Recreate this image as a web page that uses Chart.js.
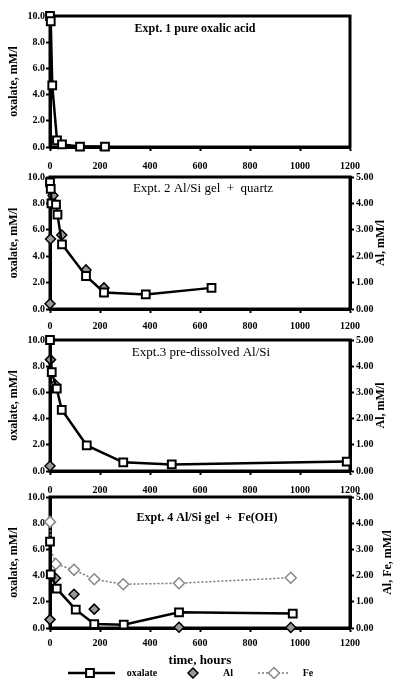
<!DOCTYPE html>
<html>
<head>
<meta charset="utf-8">
<script src="https://cdn.jsdelivr.net/npm/chart.js@4.4.0/dist/chart.umd.min.js"></script>
<style>
html, body { margin: 0; padding: 0; background: #fff; }
#wrap { position: relative; width: 397px; height: 679px; overflow: hidden; }
canvas { position: absolute; left: 0; }
</style>
</head>
<body>
<div id="wrap">
  <canvas id="p1" width="397" height="172" style="top:0px"></canvas>
  <canvas id="p2" width="397" height="172" style="top:162px"></canvas>
  <canvas id="p3" width="397" height="171" style="top:325px"></canvas>
  <canvas id="p4" width="397" height="193" style="top:486px"></canvas>
</div>
<script>
// tick labels
const hourTicks = [0, 200, 400, 600, 800, 1000, 1200];
const oxalateTicks = [0, 2, 4, 6, 8, 10];
const metalTicks = [0, 1, 2, 3, 4, 5];

// Expt 1 - pure oxalic acid
const e1Time = [0, 3, 9, 28, 48, 120, 220];
const e1Oxalate = [10.0, 9.6, 4.7, 0.5, 0.2, 0.03, 0.03];

// Expt 2 - Al/Si gel + quartz
const e2Time = [0, 3, 6, 24, 30, 48, 144, 216, 383, 646];
const e2Oxalate = [9.6, 9.1, 8.0, 7.9, 7.15, 4.9, 2.5, 1.25, 1.1, 1.6];
const e2AlTime = [0, 2, 12, 47, 144, 216];
const e2Al = [0.2, 2.65, 4.3, 2.8, 1.48, 0.8];

// Expt 3 - pre-dissolved Al/Si
const e3Time = [0, 7, 27, 47, 147, 293, 487, 1187];
const e3Oxalate = [10.0, 7.55, 6.28, 4.67, 1.95, 0.66, 0.5, 0.72];
const e3AlTime = [0, 2, 20];
const e3Al = [0.19, 4.25, 3.3];

// Expt 4 - Al/Si gel + Fe(OH)
const e4Time = [0, 3, 27, 103, 177, 295, 516, 971];
const e4Oxalate = [6.6, 4.1, 3.0, 1.4, 0.3, 0.25, 1.2, 1.1];
const e4AlTime = [0, 22, 96, 177, 516, 963];
const e4Al = [0.32, 1.9, 1.29, 0.72, 0.03, 0.02];
const e4FeTime = [0, 6, 23, 96, 177, 293, 516, 963];
const e4Fe = [4.05, 2.95, 2.44, 2.22, 1.86, 1.67, 1.71, 1.92];

const SERIF = '"Liberation Serif", "DejaVu Serif", serif';

function pts(xs, ys) { return xs.map((x, i) => ({ x, y: ys[i] })); }

const tickGrid = { drawOnChartArea: false, tickLength: 4, tickWidth: 2, tickColor: '#000' };
const axisBorder = { color: '#000', width: 3 };
const tickFont = { family: SERIF, size: 10, weight: 'bold' };

function xAxis(pad, h, withTitle) {
  return {
    type: 'linear', min: 0, max: 1200,
    afterBuildTicks: s => { s.ticks = hourTicks.map(v => ({ value: v })); },
    ticks: { padding: pad, color: '#000', font: tickFont, maxRotation: 0, callback: v => String(v) },
    grid: tickGrid,
    border: axisBorder,
    title: { display: withTitle, text: 'time, hours', color: '#000',
             font: { family: SERIF, size: 13, weight: 'bold' }, padding: 0 },
    afterFit: s => { s.height = h; }
  };
}

function yLeft() {
  return {
    position: 'left', min: 0, max: 10,
    afterBuildTicks: s => { s.ticks = oxalateTicks.map(v => ({ value: v })); },
    ticks: { padding: 1, color: '#000', font: tickFont, callback: v => v.toFixed(1) },
    grid: tickGrid,
    border: axisBorder,
    title: { display: true, text: 'oxalate, mM/l', color: '#000',
             font: { family: SERIF, size: 12, weight: 'bold' }, padding: { top: 7, bottom: 0 } },
    afterFit: s => { s.width = 50; }
  };
}

function yRight() {
  return {
    position: 'right', min: 0, max: 5,
    afterBuildTicks: s => { s.ticks = metalTicks.map(v => ({ value: v })); },
    ticks: { padding: 2, color: '#000', font: tickFont, callback: v => v.toFixed(2) },
    grid: tickGrid,
    border: axisBorder,
    afterFit: s => { s.width = 47; }
  };
}

const oxalateStyle = {
  label: 'oxalate', borderColor: '#000', borderWidth: 2.5,
  pointStyle: 'rect', pointRadius: 5.5, pointBorderWidth: 2,
  pointBackgroundColor: '#fff', pointBorderColor: '#000',
  yAxisID: 'y', clip: false
};
const alStyle = {
  label: 'Al', showLine: false,
  pointStyle: 'rectRot', pointRadius: 5, pointBorderWidth: 1.5,
  pointBackgroundColor: '#999', pointBorderColor: '#000',
  yAxisID: 'y2', clip: false
};
const feStyle = {
  label: 'Fe', borderColor: '#777', borderWidth: 1.5, borderDash: [2, 2],
  pointStyle: 'rectRot', pointBorderWidth: 1.5,
  pointRadius: c => (c.dataIndex === 1 ? 0 : 5.5),
  pointBackgroundColor: '#fff', pointBorderColor: '#888',
  yAxisID: 'y2', clip: false
};

// box round the plot, drawn under the marks
const frame = {
  id: 'frame',
  beforeDatasetsDraw(chart) {
    const { ctx, chartArea: a } = chart;
    ctx.save();
    ctx.strokeStyle = '#000';
    ctx.lineWidth = 3;
    ctx.strokeRect(a.left, a.top, a.right - a.left, a.bottom - a.top);
    ctx.restore();
  }
};

// experiment label inside the plot + right axis title (bottom-to-top)
const panelText = {
  id: 'panelText',
  afterDraw(chart, args, o) {
    const { ctx, chartArea: a } = chart;
    ctx.save();
    ctx.fillStyle = '#000';
    ctx.textAlign = 'center';
    ctx.textBaseline = 'middle';
    ctx.font = `${o.weight} ${o.size}px ${SERIF}`;
    ctx.fillText(o.text, o.x, a.top + o.dy);
    if (o.right) {
      ctx.font = `bold 12px ${SERIF}`;
      ctx.translate(o.rightX, (a.top + a.bottom) / 2);
      ctx.rotate(-Math.PI / 2);
      ctx.fillText(o.right, 0, 0);
    }
    ctx.restore();
  }
};

// legend under the last panel: line + marker + name
const lineLegend = {
  id: 'lineLegend',
  afterDraw(chart, args, o) {
    if (!o.show) return;
    const { ctx } = chart;
    const y = chart.height - 6;
    ctx.save();
    ctx.textBaseline = 'middle';
    ctx.textAlign = 'center';
    ctx.font = `bold 10px ${SERIF}`;
    // oxalate
    ctx.strokeStyle = '#000'; ctx.lineWidth = 2.5;
    ctx.beginPath(); ctx.moveTo(68, y); ctx.lineTo(115, y); ctx.stroke();
    ctx.fillStyle = '#fff'; ctx.lineWidth = 2;
    Chart.helpers.drawPoint(ctx, { pointStyle: 'rect', radius: 5.5, borderWidth: 2 }, 90, y);
    ctx.fillStyle = '#000';
    ctx.fillText('oxalate', 142, y);
    // Al
    ctx.fillStyle = '#999'; ctx.strokeStyle = '#000'; ctx.lineWidth = 1.5;
    Chart.helpers.drawPoint(ctx, { pointStyle: 'rectRot', radius: 5, borderWidth: 1.5 }, 193, y);
    ctx.fillStyle = '#000';
    ctx.fillText('Al', 228, y);
    // Fe
    ctx.strokeStyle = '#777'; ctx.lineWidth = 1.5; ctx.setLineDash([2, 2]);
    ctx.beginPath(); ctx.moveTo(258, y); ctx.lineTo(290, y); ctx.stroke();
    ctx.setLineDash([]);
    ctx.fillStyle = '#fff'; ctx.strokeStyle = '#888';
    Chart.helpers.drawPoint(ctx, { pointStyle: 'rectRot', radius: 5.5, borderWidth: 1.5 }, 274, y);
    ctx.fillStyle = '#000';
    ctx.fillText('Fe', 308, y);
    ctx.restore();
  }
};

function makePanel(id, cfg) {
  const scales = { x: xAxis(cfg.xPad, cfg.xH, cfg.xTitle), y: yLeft() };
  if (cfg.hasRight) scales.y2 = yRight();
  return new Chart(document.getElementById(id), {
    type: 'line',
    data: { datasets: cfg.datasets },
    options: {
      responsive: false,
      animation: false,
      events: [],
      layout: { padding: { top: cfg.top, right: cfg.hasRight ? 0 : 47, bottom: cfg.bottom || 0, left: 0 } },
      scales,
      plugins: {
        legend: { display: false },
        tooltip: { enabled: false },
        panelText: cfg.label,
        lineLegend: { show: !!cfg.legend }
      }
    },
    plugins: [frame, panelText, lineLegend]
  });
}

makePanel('p1', {
  top: 16, xPad: 9, xH: 25, hasRight: false,
  label: { text: 'Expt. 1 pure oxalic acid', x: 195, dy: 13, size: 12, weight: 'bold' },
  datasets: [{ ...oxalateStyle, data: pts(e1Time, e1Oxalate) }]
});

makePanel('p2', {
  top: 15, xPad: 7, xH: 25, hasRight: true,
  label: { text: 'Expt. 2 Al/Si gel  +  quartz', x: 203, dy: 12, size: 13, weight: 'normal',
           right: 'Al, mM/l', rightX: 381 },
  datasets: [
    { ...oxalateStyle, data: pts(e2Time, e2Oxalate) },
    { ...alStyle, data: pts(e2AlTime, e2Al) }
  ]
});

makePanel('p3', {
  top: 15, xPad: 9, xH: 25, hasRight: true,
  label: { text: 'Expt.3 pre-dissolved Al/Si', x: 201, dy: 13, size: 13, weight: 'normal',
           right: 'Al, mM/l', rightX: 381 },
  datasets: [
    { ...oxalateStyle, data: pts(e3Time, e3Oxalate) },
    { ...alStyle, data: pts(e3AlTime, e3Al) }
  ]
});

makePanel('p4', {
  top: 11, bottom: 11, xPad: 5, xH: 40, xTitle: true, hasRight: true, legend: true,
  label: { text: 'Expt. 4 Al/Si gel  +  Fe(OH)', x: 207, dy: 21, size: 12, weight: 'bold',
           right: 'Al, Fe, mM/l', rightX: 388 },
  datasets: [
    { ...oxalateStyle, data: pts(e4Time, e4Oxalate) },
    { ...alStyle, data: pts(e4AlTime, e4Al) },
    { ...feStyle, data: pts(e4FeTime, e4Fe) }
  ]
});
</script>
</body>
</html>
